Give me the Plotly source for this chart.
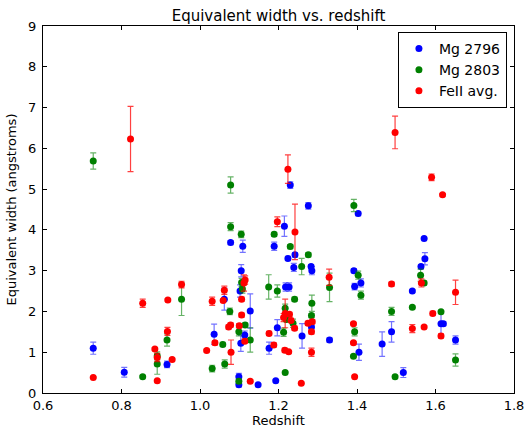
import plotly.graph_objects as go

# Mg 2796
mg2796_z = [0.728, 0.807, 0.916, 1.036, 1.062, 1.078, 1.099, 1.099, 1.102, 1.104,
            1.105, 1.109, 1.114, 1.128, 1.148, 1.176, 1.189, 1.193, 1.197, 1.215,
            1.218, 1.224, 1.227, 1.230, 1.239, 1.242, 1.260, 1.276, 1.283, 1.285,
            1.284, 1.330, 1.392, 1.394, 1.403, 1.405, 1.410, 1.464, 1.488, 1.518,
            1.541, 1.563, 1.571, 1.573, 1.614, 1.620, 1.651]
mg2796_w = [1.10, 0.51, 0.70, 1.44, 2.30, 3.69, 0.40, 0.20, 2.50, 1.22,
            3.00, 3.60, 1.42, 2.01, 0.20, 1.10, 3.60, 0.30, 1.60, 4.09,
            2.60, 3.30, 2.60, 5.10, 3.08, 3.39, 1.40, 4.59, 3.10, 3.00,
            1.62, 1.30, 3.00, 2.61, 4.40, 1.00, 2.70, 1.20, 1.50, 0.50,
            2.50, 3.10, 3.79, 3.29, 1.70, 1.70, 1.30]
mg2796_err = [0.15, 0.12, 0.08, 0.25, 0.27, 0.05, 0.08, 0.05, 0.15, 0.20,
              0.15, 0.15, 0.10, 0.42, 0.03, 0.15, 0.10, 0.03, 0.20, 0.25,
              0.10, 0.05, 0.10, 0.08, 0.10, 0.05, 0.30, 0.08, 0.05, 0.10,
              0.10, 0.05, 0.05, 0.08, 0.05, 0.20, 0.10, 0.30, 0.25, 0.12,
              0.03, 0.05, 0.03, 0.15, 0.30, 0.05, 0.10]

# Mg 2803
mg2803_z = [0.728, 0.854, 0.891, 0.891, 0.916, 0.953, 1.031, 1.058, 1.063, 1.076,
            1.078, 1.078, 1.099, 1.099, 1.115, 1.105, 1.106, 1.108, 1.128, 1.175,
            1.189, 1.197, 1.213, 1.217, 1.217, 1.220, 1.230, 1.237, 1.241, 1.259,
            1.276, 1.284, 1.285, 1.330, 1.391, 1.392, 1.394, 1.403, 1.410, 1.488,
            1.497, 1.541, 1.562, 1.571, 1.614, 1.651]
mg2803_w = [5.69, 0.40, 0.91, 0.71, 1.30, 2.30, 0.60, 1.19, 0.71, 2.00,
            5.10, 4.08, 1.50, 0.29, 1.67, 3.89, 2.71, 2.55, 1.30, 2.60,
            3.89, 2.50, 1.49, 2.08, 0.50, 1.80, 3.59, 1.71, 2.30, 3.10,
            3.39, 1.90, 2.20, 2.59, 0.90, 4.60, 1.50, 2.89, 2.40, 2.00,
            0.40, 2.10, 2.89, 2.70, 1.99, 0.81]
mg2803_err = [0.20, 0.03, 0.10, 0.25, 0.15, 0.40, 0.08, 0.05, 0.10, 0.08,
              0.20, 0.10, 0.10, 0.05, 0.05, 0.08, 0.10, 0.10, 0.30, 0.30,
              0.05, 0.15, 0.10, 0.10, 0.03, 0.05, 0.05, 0.10, 0.05, 0.20,
              0.05, 0.05, 0.20, 0.35, 0.03, 0.15, 0.10, 0.10, 0.10, 0.10,
              0.03, 0.03, 0.15, 0.05, 0.03, 0.15]

# FeII avg.
feii_z = [0.728, 0.823, 0.854, 0.885, 0.891, 0.891, 0.917, 0.918, 0.929, 0.953,
          1.017, 1.031, 1.038, 1.059, 1.062, 1.073, 1.078, 1.079, 1.100, 1.106,
          1.106, 1.112, 1.115, 1.114, 1.128, 1.176, 1.188, 1.197, 1.213, 1.217,
          1.228, 1.224, 1.226, 1.216, 1.232, 1.241, 1.242, 1.258, 1.275, 1.286,
          1.284, 1.284, 1.329, 1.391, 1.391, 1.394, 1.488, 1.497, 1.541, 1.564,
          1.571, 1.590, 1.593, 1.614, 1.618, 1.651]
feii_w = [0.38, 6.23, 2.20, 1.08, 0.87, 0.30, 1.51, 2.28, 0.82, 2.66,
          1.04, 2.25, 1.23, 2.27, 2.52, 1.62, 1.67, 1.00, 1.65, 2.30,
          1.91, 2.70, 2.77, 1.27, 0.29, 1.46, 1.18, 4.20, 1.85, 1.95,
          1.93, 5.49, 1.01, 1.05, 1.78, 1.59, 3.95, 0.24, 1.71, 1.75,
          1.50, 1.00, 2.84, 1.70, 1.23, 0.40, 2.67, 6.39, 1.58, 2.70,
          1.62, 5.29, 1.95, 1.40, 4.86, 2.47]
feii_err = [0.02, 0.80, 0.10, 0.03, 0.10, 0.03, 0.10, 0.03, 0.03, 0.08,
            0.03, 0.10, 0.05, 0.03, 0.10, 0.05, 0.05, 0.30, 0.05, 0.05,
            0.05, 0.20, 0.10, 0.05, 0.03, 0.05, 0.05, 0.12, 0.10, 0.35,
            0.05, 0.35, 0.03, 0.05, 0.05, 0.05, 0.68, 0.02, 0.05, 0.05,
            0.05, 0.10, 0.20, 0.03, 0.03, 0.02, 0.05, 0.40, 0.10, 0.10,
            0.03, 0.08, 0.05, 0.05, 0.03, 0.30]

series = [
    ("Mg 2796", mg2796_z, mg2796_w, mg2796_err, "#0000ff", "rgba(0,0,255,0.55)"),
    ("Mg 2803", mg2803_z, mg2803_w, mg2803_err, "#008000", "rgba(0,128,0,0.6)"),
    ("FeII avg.", feii_z, feii_w, feii_err, "#ff0000", "rgba(255,0,0,0.75)"),
]

traces = []
for name, z, w, err, col, ecol in series:
    traces.append(go.Scatter(
        x=z, y=w, mode="markers", name=name,
        marker=dict(color=col, size=7, line=dict(width=0)),
        error_y=dict(type="data", array=err, visible=True,
                     color=ecol, thickness=1.2, width=3),
    ))

axis_style = dict(
    showline=True, linecolor="black", linewidth=1, mirror="ticks",
    ticks="inside", ticklen=4, tickcolor="black", showgrid=False,
    zeroline=False, tickfont=dict(size=13, color="black"), automargin=False,
)

layout = go.Layout(
    width=528, height=432,
    margin=dict(l=43, r=14, t=26, b=39),
    paper_bgcolor="white", plot_bgcolor="white",
    font=dict(family="DejaVu Sans", color="black"),
    title=dict(text="Equivalent width vs. redshift", x=0.5, xref="paper",
               y=0.963, yref="container", yanchor="middle",
               font=dict(size=15)),
    xaxis=dict(range=[0.6, 1.8], dtick=0.2, tickformat=".1f",
               title=dict(text="Redshift", font=dict(size=13), standoff=2),
               **axis_style),
    yaxis=dict(range=[0, 9], dtick=1, ticklabelstandoff=3,
               title=dict(text="Equivalent width (angstroms)", font=dict(size=13), standoff=8),
               **axis_style),
    legend=dict(x=0.985, y=0.984, xanchor="right", yanchor="top",
                bordercolor="black", borderwidth=1, bgcolor="white",
                font=dict(size=14), itemwidth=30, tracegroupgap=0),
    showlegend=True,
)

fig = go.Figure(data=traces, layout=layout)
# the page's default body margin would shift the figure by 8px
fig.write_html("out.html", config={"displayModeBar": False},
               post_script="document.body.style.margin='0';")
